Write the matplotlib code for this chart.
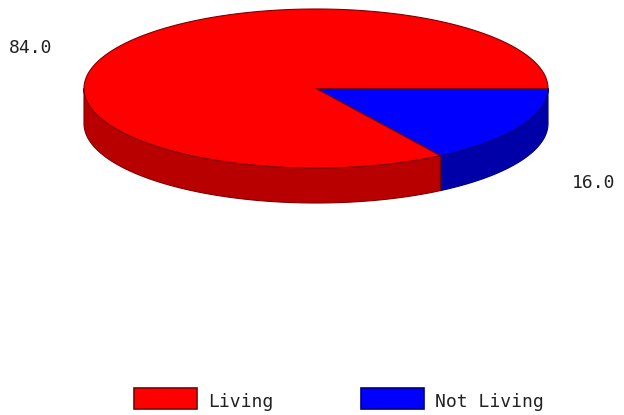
import numpy as np
import matplotlib
matplotlib.use("Agg")
import matplotlib.pyplot as plt
from matplotlib.patches import Rectangle

categories = ["Living", "Not Living"]
values = [84.0, 16.0]
top_colors = ["#ff0000", "#0000ff"]
side_colors = ["#b80000", "#0000a8"]
edge_colors = ["#800000", "#000080"]

W, H = 624, 415
CX, CY, RX, RY, DEPTH = 316, 88.5, 232, 79.5, 35

fig = plt.figure(figsize=(W / 100, H / 100), dpi=100)
ax = fig.add_axes([0, 0, 1, 1])
ax.set_xlim(0, W)
ax.set_ylim(H, 0)
ax.axis("off")


def arc(a0, a1, dy=0.0):
    t = np.radians(np.linspace(a0, a1, 400))
    return CX + RX * np.cos(t), CY + dy + RY * np.sin(t)


# angles run clockwise on screen, starting at 3 o'clock; Not Living first
total = sum(values)
blue_end = 360 * values[1] / total
spans = {1: (0.0, blue_end), 0: (blue_end, 360.0)}

# side walls (front half only, 0..180 degrees on screen)
for i, (a0, a1) in spans.items():
    s0, s1 = max(a0, 0), min(a1, 180)
    if s1 > s0:
        x1, y1 = arc(s0, s1)
        x2, y2 = arc(s1, s0, DEPTH)
        ax.fill(np.r_[x1, x2], np.r_[y1, y2], fc=side_colors[i],
                ec=edge_colors[i], lw=0.8, joinstyle="round", zorder=2)

# top slices
for i, (a0, a1) in spans.items():
    x, y = arc(a0, a1)
    ax.fill(np.r_[CX, x], np.r_[CY, y], fc=top_colors[i],
            ec=edge_colors[i], lw=0.8, joinstyle="round", zorder=3)

# value labels
ax.text(9, 48, f"{values[0]:.1f}", fontsize=13, family="DejaVu Sans Mono",
        color="#222222", va="center", ha="left")
ax.text(572, 183, f"{values[1]:.1f}", fontsize=13, family="DejaVu Sans Mono",
        color="#222222", va="center", ha="left")

# legend
swatch_x = [134, 361]
label_x = [208, 435]
for i, name in enumerate(categories):
    ax.add_patch(Rectangle((swatch_x[i], 388), 63, 21, fc=top_colors[i],
                           ec=edge_colors[i], lw=1.2))
    ax.text(label_x[i], 402, name, fontsize=13, family="DejaVu Sans Mono",
            color="#222222", va="center", ha="left")

fig.savefig("out.png", dpi=100, facecolor="white")
